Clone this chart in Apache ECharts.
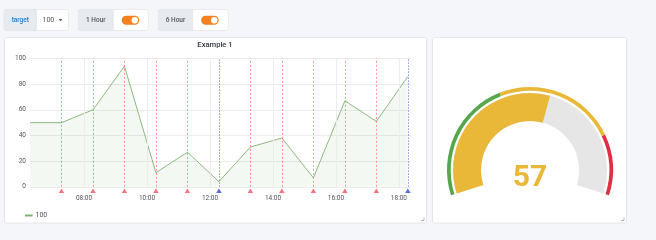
<!DOCTYPE html>
<html>
<head>
<meta charset="utf-8">
<script src="https://cdn.jsdelivr.net/npm/echarts@6/dist/echarts.min.js"></script>
<style>
html,body{margin:0;padding:0;background:#f5f6f9;}
#c{width:656px;height:240px;}
</style>
</head>
<body>
<div id="c"></div>
<script>
// ---- data ----
const pointTimes = ['06:17','07:17','08:17','09:17','10:17','11:17','12:17','13:17','14:17','15:17','16:17','17:17','18:17'];
const seriesValues = [50, 50, 60, 94, 11, 27, 4, 31, 38, 7, 67, 51, 86];
const redAnnotations = ['07:17','08:17','09:17','10:17','11:17','13:17','14:17','15:17','16:17','17:17'];
const blueAnnotations = ['12:17','18:17'];
const xTickLabels = ['08:00','10:00','12:00','14:00','16:00','18:00'];
const yTicks = [0, 20, 40, 60, 80, 100];
const seriesName = '100';
const gaugeValue = 57;
const gaugeThresholds = [40, 80];
const targetValue = '100';

function t(hm){ const p = hm.split(':'); return new Date(2020,0,1,+p[0],+p[1]).getTime(); }
function fmt(v){ const d=new Date(v); return String(d.getHours()).padStart(2,'0')+':'+String(d.getMinutes()).padStart(2,'0'); }

const lineData = pointTimes.map((s,i)=>[t(s), seriesValues[i]]);
const FONT = 'Roboto, "Noto Sans", sans-serif';

const chart = echarts.init(document.getElementById('c'), null, {renderer:'canvas'});

function ctrlLabel(x, w, text, color){
  return [
    {type:'rect', shape:{x:x, y:9.5, width:w, height:21, r:[2,0,0,2]}, style:{fill:'#e7eaef', stroke:'#dde0e6', lineWidth:0.6}},
    {type:'text', x:x+w/2, y:20, style:{text:text, fill:color, font:'500 6.5px '+FONT, textAlign:'center', textVerticalAlign:'middle'}}
  ];
}
function toggle(x, w){
  const px = x + 8.4;
  return [
    {type:'rect', shape:{x:x, y:9.5, width:w, height:21, r:[0,2,2,0]}, style:{fill:'#ffffff', stroke:'#dde0e6', lineWidth:0.6}},
    {type:'rect', shape:{x:px, y:15.8, width:17.6, height:9, r:4.5}, style:{fill:'#f5801f'}},
    {type:'circle', shape:{cx:px+13.1, cy:20.3, r:3.2}, style:{fill:'#ffffff'}}
  ];
}
function resizeHandle(x, y){
  return [
    {type:'line', shape:{x1:x, y1:y-3, x2:x, y2:y}, style:{stroke:'#9aa0a8', lineWidth:0.8}},
    {type:'line', shape:{x1:x-3, y1:y, x2:x, y2:y}, style:{stroke:'#9aa0a8', lineWidth:0.8}}
  ];
}

const graphics = [
  {type:'rect', z:-10, shape:{x:4.5, y:37.5, width:422, height:185.5, r:2}, style:{fill:'#ffffff', stroke:'#e3e6eb', lineWidth:1}},
  {type:'rect', z:-10, shape:{x:432.5, y:37.5, width:194, height:185.5, r:2}, style:{fill:'#ffffff', stroke:'#e3e6eb', lineWidth:1}},
  ...ctrlLabel(4, 32.5, 'target', '#1f78c1'),
  {type:'rect', shape:{x:36.5, y:9.5, width:32, height:21, r:[0,2,2,0]}, style:{fill:'#ffffff', stroke:'#dde0e6', lineWidth:0.6}},
  {type:'text', x:42.5, y:20, style:{text:targetValue, fill:'#52545c', font:'7px '+FONT, textVerticalAlign:'middle'}},
  {type:'polygon', shape:{points:[[58.6,19],[62.4,19],[60.5,21.2]]}, style:{fill:'#52545c'}},
  ...ctrlLabel(78.3, 35, '1 Hour', '#52545c'),
  ...toggle(113.3, 35),
  ...ctrlLabel(158.3, 34.4, '6 Hour', '#52545c'),
  ...toggle(192.7, 35.6),
  {type:'text', x:215, y:45.5, style:{text:'Example 1', fill:'#333840', font:'500 7.6px '+FONT, textAlign:'center', textVerticalAlign:'middle'}},
  ...resizeHandle(424, 220.5),
  ...resizeHandle(624, 220.5)
];

const evenHourSet = new Set(xTickLabels.map(t));

const markLineData = [
  ...redAnnotations.map(s=>({xAxis:t(s), lineStyle:{color:'rgba(255,90,90,0.8)', type:[2,2], width:0.8}})),
  ...blueAnnotations.map(s=>({xAxis:t(s), lineStyle:{color:'rgba(80,90,220,0.75)', type:[1.5,1.5], width:0.9}}))
];

const option = {
  animation:false,
  backgroundColor:'transparent',
  textStyle:{fontFamily:FONT},
  graphic: graphics,
  grid:{left:30, top:58.5, width:381, height:128.3, containLabel:false},
  legend:{
    left:20, top:207, itemWidth:7.5, itemHeight:2, icon:'rect', itemGap:3,
    textStyle:{fontSize:7, color:'#52545c', fontFamily:FONT, padding:[0,0,0,-2]},
    data:[seriesName]
  },
  xAxis:{
    type:'time',
    min:t('06:17'), max:t('18:23'),
    axisLine:{show:false}, axisTick:{show:false},
    splitLine:{show:false},
    axisLabel:{fontSize:6.5, color:'#52545c', margin:8, fontFamily:FONT, showMinLabel:false, showMaxLabel:false,
      formatter:(v)=> evenHourSet.has(v) ? fmt(v) : ''}
  },
  yAxis:{
    type:'value', min:yTicks[0], max:yTicks[yTicks.length-1], interval:yTicks[1]-yTicks[0],
    axisLine:{show:false}, axisTick:{show:false},
    splitLine:{lineStyle:{color:'#ececec', width:1}},
    axisLabel:{fontSize:6.5, color:'#52545c', margin:4, fontFamily:FONT}
  },
  series:[
    {
      type:'line', data:[], silent:true, z:0,
      markLine:{silent:true, symbol:'none', label:{show:false},
        lineStyle:{color:'#ececec', type:'solid', width:1},
        data: xTickLabels.map(s=>({xAxis:t(s)}))}
    },
    {
      name:seriesName, type:'line', data:lineData, symbol:'none',
      lineStyle:{color:'#7eb26d', width:0.9}, itemStyle:{color:'#7eb26d'},
      areaStyle:{color:'rgba(126,178,109,0.12)'},
      markLine:{silent:true, symbol:'none', label:{show:false}, data:markLineData}
    },
    {
      type:'scatter', clip:false, silent:true, symbol:'triangle', symbolSize:[5.5,4.5], symbolOffset:[0,4],
      data: redAnnotations.map(s=>[t(s),0]), itemStyle:{color:'#f0525a'}, z:5
    },
    {
      type:'scatter', clip:false, silent:true, symbol:'triangle', symbolSize:[5.5,4.5], symbolOffset:[0,4],
      data: blueAnnotations.map(s=>[t(s),0]), itemStyle:{color:'#2f46c8'}, z:5
    },
    {
      type:'gauge', center:[530,170], radius:83, startAngle:197.8, endAngle:-17.8, min:0, max:100,
      axisLine:{lineStyle:{width:3.7, color:[[gaugeThresholds[0]/100,'#56a64b'],[gaugeThresholds[1]/100,'#eab839'],[1,'#e02f44']]}},
      pointer:{show:false}, axisTick:{show:false}, splitLine:{show:false}, axisLabel:{show:false},
      detail:{show:false}, title:{show:false}, data:[{value:0}]
    },
    {
      type:'gauge', center:[530,170], radius:77, startAngle:197.8, endAngle:-17.8, min:0, max:100,
      axisLine:{lineStyle:{width:28, color:[[1,'#e6e6e6']]}},
      progress:{show:true, width:28, itemStyle:{color:'#eab839'}},
      pointer:{show:false}, axisTick:{show:false}, splitLine:{show:false}, axisLabel:{show:false},
      title:{show:false},
      detail:{show:true, offsetCenter:[0,8], fontSize:30, fontWeight:'bold', color:'#eab839', fontFamily:FONT, valueAnimation:false},
      data:[{value:gaugeValue}]
    }
  ]
};
chart.setOption(option);
</script>
</body>
</html>
